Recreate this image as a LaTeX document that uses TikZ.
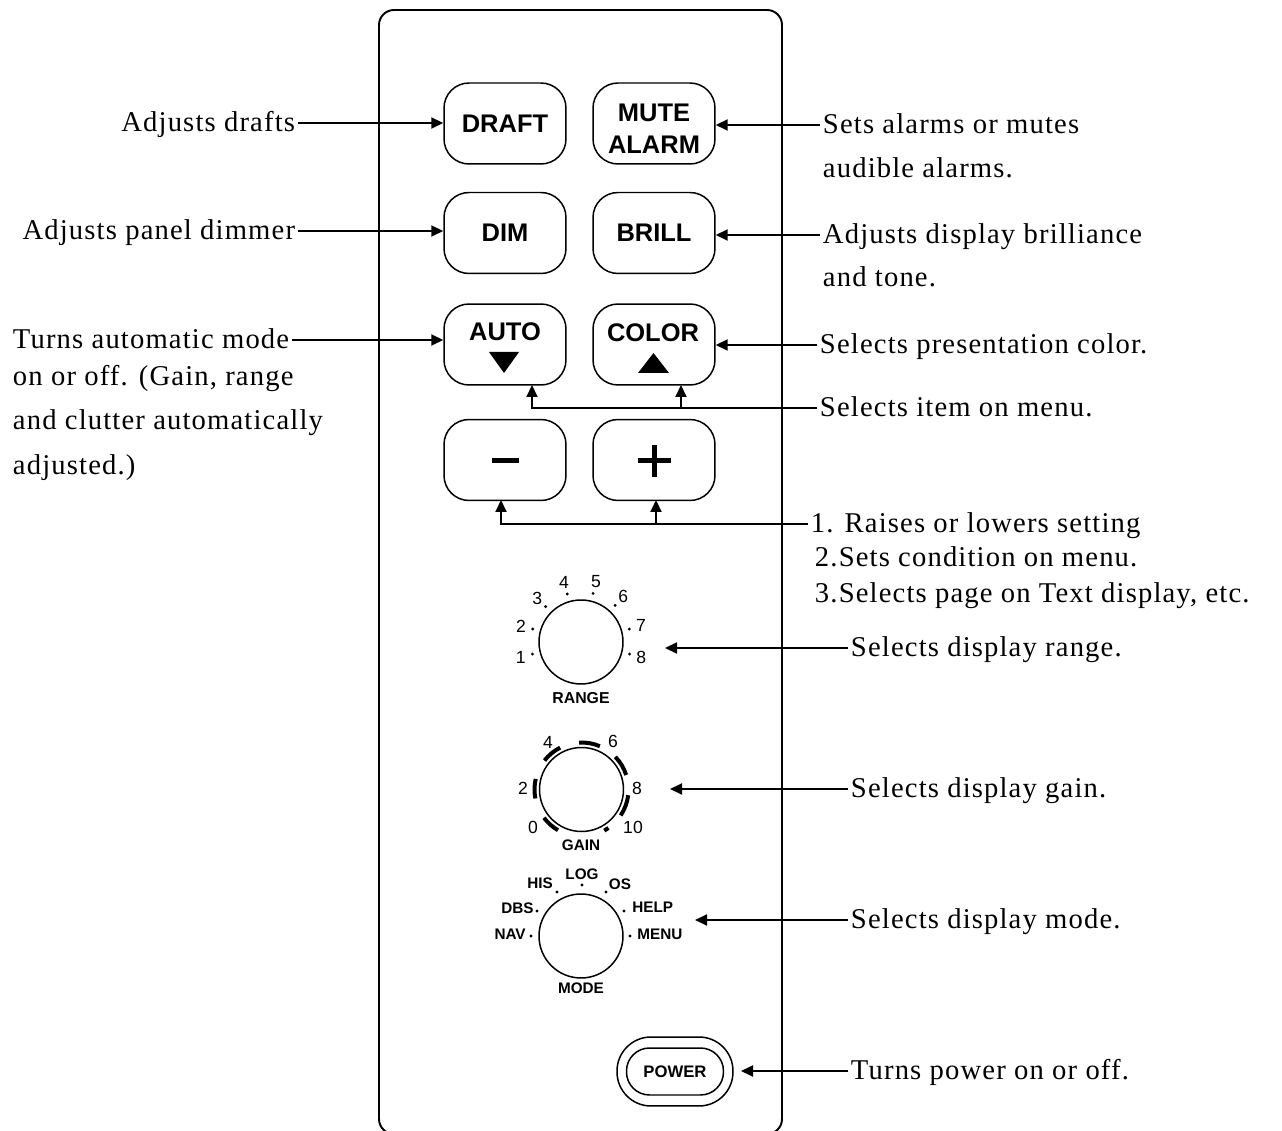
\documentclass[tikz,border=0pt]{standalone}
\usepackage{fontspec}
\setmainfont{Liberation Serif}[LetterSpace=4]
\newfontfamily\keyfont{Liberation Sans}
\usetikzlibrary{arrows.meta}

\tikzset{
    key/.style={draw, line width=0.85pt, rounded corners=0.5cm, minimum width=2.44cm,
        minimum height=1.62cm, align=center, inner sep=0pt,
        font=\keyfont\bfseries\fontsize{14.5}{18}\selectfont},
    keytext/.style={inner sep=0pt, align=center, font=\keyfont\bfseries\fontsize{14.5}{18}\selectfont},
    note/.style={inner sep=1.5pt, text height=13.5pt, text depth=3.3pt, font=\fontsize{16.3}{20}\selectfont},
    arr/.style={line width=1.1pt, -{Triangle[length=0.24cm, width=0.22cm]}},
    knob/.style={draw, circle, line width=0.85pt, minimum size=1.68cm, inner sep=0pt},
    dial/.style={inner sep=0pt, font=\keyfont\fontsize{10}{11}\selectfont},
    dialb/.style={inner sep=0pt, font=\keyfont\bfseries\fontsize{8.7}{10}\selectfont},
}

\begin{document}
\begin{tikzpicture}[x=0.02cm, y=-0.02cm]
    \useasboundingbox (0,0) rectangle (1282,1131);

    % panel
    \draw[line width=1.1pt, rounded corners=0.3cm] (379,10) rectangle (782,1134);

    % keys
    \node[key] (bDraft) at (505,123.5) {DRAFT};
    \node[key] (bMute) at (654,123.5) {};
    \node[key] (bDim) at (505,233) {DIM};
    \node[key] (bBrill) at (654,233) {BRILL};
    \node[key] (bAuto) at (505,344.5) {};
    \node[key] (bColor) at (654,344.5) {};
    \node[key] (bMinus) at (505,460) {};
    \node[key] (bPlus) at (654,460) {};

    \node[keytext] (tMute) at (654,129) {MUTE\\ALARM};
    \node[keytext] (tAuto) at (505,332) {AUTO};
    \node[keytext] (tColor) at (653,333) {COLOR};
    \fill (489,352) -- (519,352) -- (504,373) -- cycle;
    \fill (638,373) -- (669,373) -- (653.5,353) -- cycle;
    \draw[line width=0.1cm] (492,461) -- (519,461);
    \draw[line width=0.1cm] (638,461) -- (671,461) (654.5,445) -- (654.5,477);

    % range knob
    \node[knob] (kRange) at (581,642) {};
    \foreach \a/\t in {166/1,195/2,225/3,254/4,284/5,313/6,345/7,374/8} {
        \fill ([shift={(\a:50)}]kRange.center) circle (1.6);
        \node[dial] (r\t) at ([shift={(\a:62)}]kRange.center) {\t};
    }
    \node[dialb, font=\keyfont\bfseries\fontsize{9}{10}\selectfont] (tRange) at (581,698) {RANGE};

    % gain knob
    \node[knob] (kGain) at (581.5,789.5) {};
    \foreach \a/\b in {-217/-240,-167/-191,-117/-142,-67/-93,-18/-44,33.5/7,61/55}
        \draw[line width=0.08cm] ([shift={(\a:47)}]kGain.center) arc (\a:\b:47);
    \node[dial] (g0) at (533,827) {0};
    \node[dial] (g2) at (523,788) {2};
    \node[dial] (g4) at (548,742) {4};
    \node[dial] (g6) at (613,741) {6};
    \node[dial] (g8) at (637,788) {8};
    \node[dial] (g10) at (633,827) {10};
    \node[dialb] (tGain) at (581,845) {GAIN};

    % mode knob
    \node[knob] (kMode) at (581,936) {};
    \foreach \p in {(531,936),(537,911),(557,892),(582,885),(606,892),(624,911),(630,936)}
        \fill \p circle (1.6);
    \node[dialb, anchor=east] (mNav) at (526,934) {NAV};
    \node[dialb, anchor=east] (mDbs) at (534,908) {DBS};
    \node[dialb] (mHis) at (540,883) {HIS};
    \node[dialb] (mLog) at (582,874) {LOG};
    \node[dialb] (mOs) at (620,884) {OS};
    \node[dialb, anchor=west] (mHelp) at (632,907) {HELP};
    \node[dialb, anchor=west] (mMenu) at (637,934) {MENU};
    \node[dialb] (tMode) at (581,988) {MODE};

    % power
    \node[draw, line width=0.85pt, minimum width=2.32cm, minimum height=1.38cm,
        rounded corners=0.68cm] (pwrOut) at (675,1071.5) {};
    \node[draw, line width=0.85pt, minimum width=1.94cm, minimum height=0.94cm,
        rounded corners=0.46cm, dialb, font=\keyfont\bfseries\fontsize{9.5}{10}\selectfont]
        (pwr) at (675,1071.5) {POWER};

    % notes left
    \node[note, anchor=east] (lDraft) at (298,123) {Adjusts drafts};
    \node[note, anchor=east] (lDim) at (298,231) {Adjusts panel dimmer};
    \node[note, anchor=west] (lAuto) at (10,340) {Turns automatic mode};
    \node[note, anchor=west] (lAutob) at (10,377) {on or off. (Gain, range};
    \node[note, anchor=west] (lAutoc) at (10,421) {and clutter automatically};
    \node[note, anchor=west] (lAutod) at (10,466) {adjusted.)};

    % notes right
    \node[note, anchor=west] (lMute) at (820,125) {Sets alarms or mutes};
    \node[note, anchor=west] (lMuteb) at (820,169) {audible alarms.};
    \node[note, anchor=west] (lBrill) at (820,235) {Adjusts display brilliance};
    \node[note, anchor=west] (lBrillb) at (820,278) {and tone.};
    \node[note, anchor=west] (lColor) at (817,345) {Selects presentation color.};
    \node[note, anchor=west] (lItem) at (817,408) {Selects item on menu.};
    \node[note, anchor=west] (lRaise) at (808,524) {1. Raises or lowers setting};
    \node[note, anchor=west] (lRaiseb) at (812,558) {2.Sets condition on menu.};
    \node[note, anchor=west] (lRaisec) at (812,594) {3.Selects page on Text display, etc.};
    \node[note, anchor=west] (lRange) at (848,648) {Selects display range.};
    \node[note, anchor=west] (lGain) at (848,789) {Selects display gain.};
    \node[note, anchor=west] (lMode) at (848,920) {Selects display mode.};
    \node[note, anchor=west] (lPower) at (848,1071) {Turns power on or off.};

    \coordinate (aAuto) at (532,385);
    \coordinate (aColor) at (681,385);
    \coordinate (aMinus) at (501,500);
    \coordinate (aPlus) at (656,500);
    \coordinate (pRange) at (665,648);
    \coordinate (pGain) at (670,789);
    \coordinate (pMode) at (695,920);
    \coordinate (pPower) at (741,1071);

    % arrows
    \draw[arr] (lDraft.east) -- (lDraft.east -| bDraft.west);
    \draw[arr] (lDim.east) -- (lDim.east -| bDim.west);
    \draw[arr] (lAuto.east) -- (lAuto.east -| bAuto.west);
    \draw[arr] (lMute.west) -- (lMute.west -| bMute.east);
    \draw[arr] (lBrill.west) -- (lBrill.west -| bBrill.east);
    \draw[arr] (lColor.west) -- (lColor.west -| bColor.east);
    \draw[arr] (lItem.west) -| (aAuto);
    \draw[arr] (lItem.west -| aColor) -- (aColor);
    \draw[arr] (lRaise.west) -| (aMinus);
    \draw[arr] (lRaise.west -| aPlus) -- (aPlus);
    \draw[arr] (lRange.west) -- (pRange);
    \draw[arr] (lGain.west) -- (pGain);
    \draw[arr] (lMode.west) -- (pMode);
    \draw[arr] (lPower.west) -- (pPower);
\end{tikzpicture}
\end{document}
